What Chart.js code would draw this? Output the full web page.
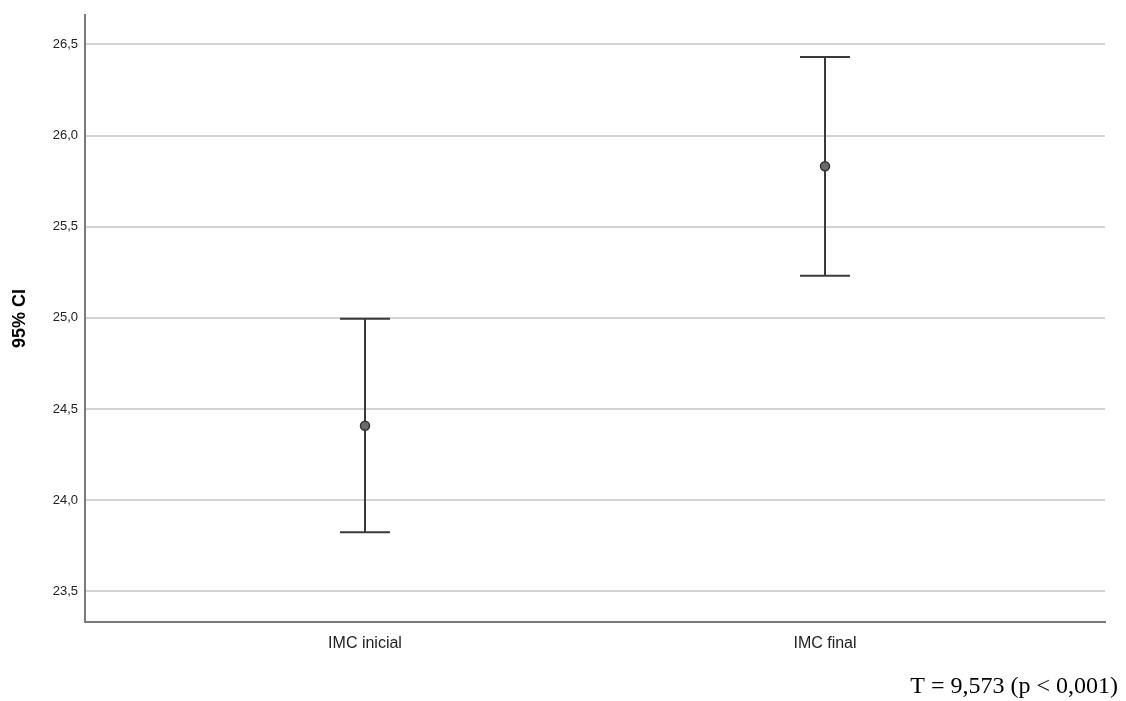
<!DOCTYPE html>
<html><head><meta charset="utf-8">
<script src="https://cdn.jsdelivr.net/npm/chart.js@4"></script>
<style>html,body{margin:0;padding:0;background:#fff}#wrap{width:1126px;height:701px}</style>
</head><body><div id="wrap"><canvas id="c" width="1126" height="701"></canvas></div>
<script>
const categories = ['IMC inicial', 'IMC final'];
const means = [24.408, 25.831];
const lowerCI = [23.824, 25.231];
const upperCI = [24.995, 26.431];
const yTicks = [23.5, 24.0, 24.5, 25.0, 25.5, 26.0, 26.5];
const note = 'T = 9,573 (p < 0,001)';

const errorBars = {
  id: 'errorBars',
  afterDatasetsDraw(chart) {
    const {ctx, scales: {x, y}} = chart;
    ctx.save();
    ctx.strokeStyle = '#3a3a3a';
    ctx.lineWidth = 2;
    categories.forEach((c, i) => {
      const px = x.getPixelForValue(i + 1);
      const top = y.getPixelForValue(upperCI[i]);
      const bot = y.getPixelForValue(lowerCI[i]);
      ctx.beginPath();
      ctx.moveTo(px, top); ctx.lineTo(px, bot);
      ctx.moveTo(px - 25, top); ctx.lineTo(px + 25, top);
      ctx.moveTo(px - 25, bot); ctx.lineTo(px + 25, bot);
      ctx.stroke();
    });
    const meta = chart.getDatasetMeta(0);
    meta.data.forEach(p => {
      ctx.beginPath();
      ctx.arc(p.x, p.y, 4.5, 0, Math.PI * 2);
      ctx.fillStyle = '#6b6b6b';
      ctx.fill();
      ctx.lineWidth = 1.5;
      ctx.strokeStyle = '#333';
      ctx.stroke();
    });
    ctx.fillStyle = '#000';
    ctx.font = '24px "Liberation Serif", "Times New Roman", serif';
    ctx.textAlign = 'right';
    ctx.textBaseline = 'middle';
    ctx.fillText(note, 1118, 687);
    ctx.restore();
  }
};

new Chart(document.getElementById('c'), {
  type: 'scatter',
  data: {
    datasets: [{
      data: means.map((m, i) => ({x: i + 1, y: m})),
      pointRadius: 0,
      pointHoverRadius: 0
    }]
  },
  options: {
    responsive: false,
    animation: false,
    plugins: {legend: {display: false}, tooltip: {enabled: false}},
    layout: {padding: {left: 0, right: 21, top: 11, bottom: 0}},
    scales: {
      x: {
        type: 'linear',
        min: 1 - (365 - 85) / 460,
        max: 2 + (1105 - 825) / 460,
        afterBuildTicks(s) { s.ticks = categories.map((c, i) => ({value: i + 1})); },
        afterFit(s) { s.height = 79; },
        ticks: {
          callback: (v) => categories[v - 1],
          color: '#222',
          font: {family: 'Arial, "Liberation Sans", sans-serif', size: 16},
          padding: 12,
          maxRotation: 0, autoSkip: false
        },
        grid: {display: false, drawTicks: false},
        border: {display: true, color: '#7a7a7a', width: 2}
      },
      y: {
        min: 23.332,
        max: 26.662,
        afterBuildTicks(s) { s.ticks = yTicks.map(v => ({value: v})); },
        afterFit(s) { s.width = 85; },
        ticks: {
          callback: (v) => v.toFixed(1).replace('.', ','),
          color: '#222',
          font: {family: 'Arial, "Liberation Sans", sans-serif', size: 13},
          padding: 7
        },
        grid: {color: '#d3d3d3', lineWidth: 2, drawTicks: false},
        border: {display: true, color: '#7a7a7a', width: 2},
        title: {
          display: true, text: '95% CI', color: '#000',
          font: {family: 'Arial, "Liberation Sans", sans-serif', size: 18, weight: 'bold'},
          padding: {top: 9, bottom: 10}
        }
      }
    }
  },
  plugins: [errorBars]
});
</script></body></html>
